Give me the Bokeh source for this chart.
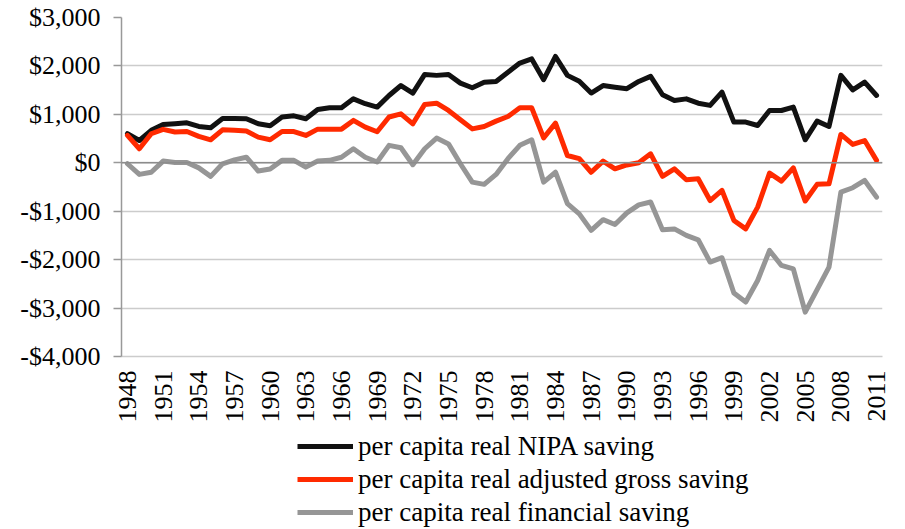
import math
import numpy as np
from bokeh.plotting import figure
from bokeh.layouts import column
from bokeh.models import FixedTicker, Legend, LegendItem, Range1d, Span
from bokeh.embed import file_html
from bokeh.resources import INLINE

years = list(range(1948, 2012))

nipa_saving = [600, 460, 670, 790, 805, 825, 750, 725, 915, 915, 910, 805, 765, 945, 970, 910,
               1100, 1135, 1135, 1320, 1220, 1150, 1390, 1595, 1440, 1825, 1805, 1825, 1645, 1550,
               1665, 1680, 1870, 2060, 2145, 1715, 2195, 1805, 1685, 1440, 1595, 1560, 1530, 1680,
               1785, 1405, 1285, 1320, 1230, 1185, 1460, 840, 840, 770, 1080, 1080, 1150, 475,
               860, 750, 1805, 1505, 1665, 1390]

adjusted_gross_saving = [565, 290, 600, 690, 635, 645, 545, 475, 680, 670, 655, 530, 475, 645, 645, 565,
                         695, 695, 695, 875, 735, 640, 945, 1010, 805, 1205, 1230, 1080, 890, 700,
                         750, 860, 955, 1135, 1135, 515, 820, 150, 85, -195, 35, -125, -45, 0,
                         185, -280, -125, -350, -330, -780, -570, -1190, -1365, -915, -215, -380, -105, -790,
                         -445, -435, 585, 380, 460, 50]

financial_saving = [-20, -240, -195, 35, 5, 5, -105, -280, -20, 60, 115, -170, -130, 50, 50, -90,
                    35, 50, 115, 290, 115, 15, 360, 310, -40, 290, 510, 390, -20, -400,
                    -445, -240, 85, 360, 475, -400, -195, -845, -1055, -1395, -1175, -1275, -1035, -870,
                    -810, -1385, -1365, -1500, -1590, -2050, -1960, -2690, -2875, -2430, -1810, -2120, -2190, -3085,
                    -2620, -2155, -605, -515, -365, -710]

x_tick_years = [1948, 1951, 1954, 1957, 1960, 1963, 1966, 1969, 1972, 1975, 1978, 1981,
                1984, 1987, 1990, 1993, 1996, 1999, 2002, 2005, 2008, 2011]
y_ticks = [-4000, -3000, -2000, -1000, 0, 1000, 2000, 3000]
y_tick_labels = ["-$4,000", "-$3,000", "-$2,000", "-$1,000", "$0", "$1,000", "$2,000", "$3,000"]

series_names = ["per capita real NIPA saving",
                "per capita real adjusted gross saving",
                "per capita real financial saving"]
series_colors = ["#111111", "#ff2a00", "#969696"]

FONT = "Liberation Serif"

p = figure(width=897, height=430, output_backend="svg", toolbar_location=None,
           x_range=Range1d(1947.5, 2011.5), y_range=Range1d(-4000, 3000),
           min_border_left=121, min_border_right=15, min_border_top=17, min_border_bottom=74)
p.outline_line_color = None
p.background_fill_color = "white"

p.xgrid.grid_line_color = None
p.ygrid.ticker = FixedTicker(ticks=y_ticks)
p.ygrid.grid_line_color = "#cccccc"
p.ygrid.grid_line_width = 1.5

zero = Span(location=0, dimension="width", line_color="#8c8c8c", line_width=1.5)
p.add_layout(zero)

for vals, col in zip([nipa_saving, adjusted_gross_saving, financial_saving], series_colors):
    p.line(years, vals, line_color=col, line_width=5, line_join="round", line_cap="round")

# axes
p.yaxis.ticker = FixedTicker(ticks=y_ticks)
p.yaxis.major_label_overrides = {t: l for t, l in zip(y_ticks, y_tick_labels)}
p.yaxis.minor_tick_line_color = None
p.yaxis.major_tick_in = 0
p.yaxis.major_tick_out = 8
p.yaxis.major_tick_line_color = "#999999"
p.yaxis.axis_line_color = "#999999"
p.yaxis.axis_line_width = 1.5
p.yaxis.major_tick_line_width = 1.5
p.yaxis.major_label_standoff = 13
p.yaxis.major_label_text_font = FONT
p.yaxis.major_label_text_font_size = "26px"
p.yaxis.major_label_text_color = "black"

p.xaxis.ticker = FixedTicker(ticks=x_tick_years)
p.xaxis.major_label_overrides = {y: str(y) for y in x_tick_years}
p.xaxis.major_label_orientation = math.pi / 2
p.xaxis.minor_tick_line_color = None
p.xaxis.major_tick_line_color = None
p.xaxis.major_tick_in = 0
p.xaxis.major_tick_out = 0
p.xaxis.axis_line_color = "#cccccc"
p.xaxis.axis_line_width = 1.5
p.xaxis.major_label_standoff = 14
p.xaxis.major_label_text_font = FONT
p.xaxis.major_label_text_font_size = "26px"
p.xaxis.major_label_text_color = "black"

# legend panel below the chart (keys carry no visible data)
lp = figure(width=897, height=99, output_backend="svg", toolbar_location=None,
            x_axis_type=None, y_axis_type=None,
            min_border_left=0, min_border_right=0, min_border_top=0, min_border_bottom=0)
lp.outline_line_color = None
lp.xgrid.grid_line_color = None
lp.ygrid.grid_line_color = None
keys = [lp.line(x=np.array([np.nan]), y=np.array([np.nan]), line_color=c, line_width=5)
        for c in series_colors]
items = [LegendItem(label=n, renderers=[r]) for n, r in zip(series_names, keys)]
legend = Legend(items=items, location=(176, 1), orientation="vertical",
                label_text_font=FONT, label_text_font_size="27px", label_text_color="black",
                glyph_width=56, glyph_height=32, label_height=32, spacing=1,
                label_standoff=5, padding=0, margin=0,
                border_line_color=None, background_fill_alpha=0)
lp.add_layout(legend, "center")

open("out.html", "w").write(file_html(column(p, lp, spacing=0), INLINE))
